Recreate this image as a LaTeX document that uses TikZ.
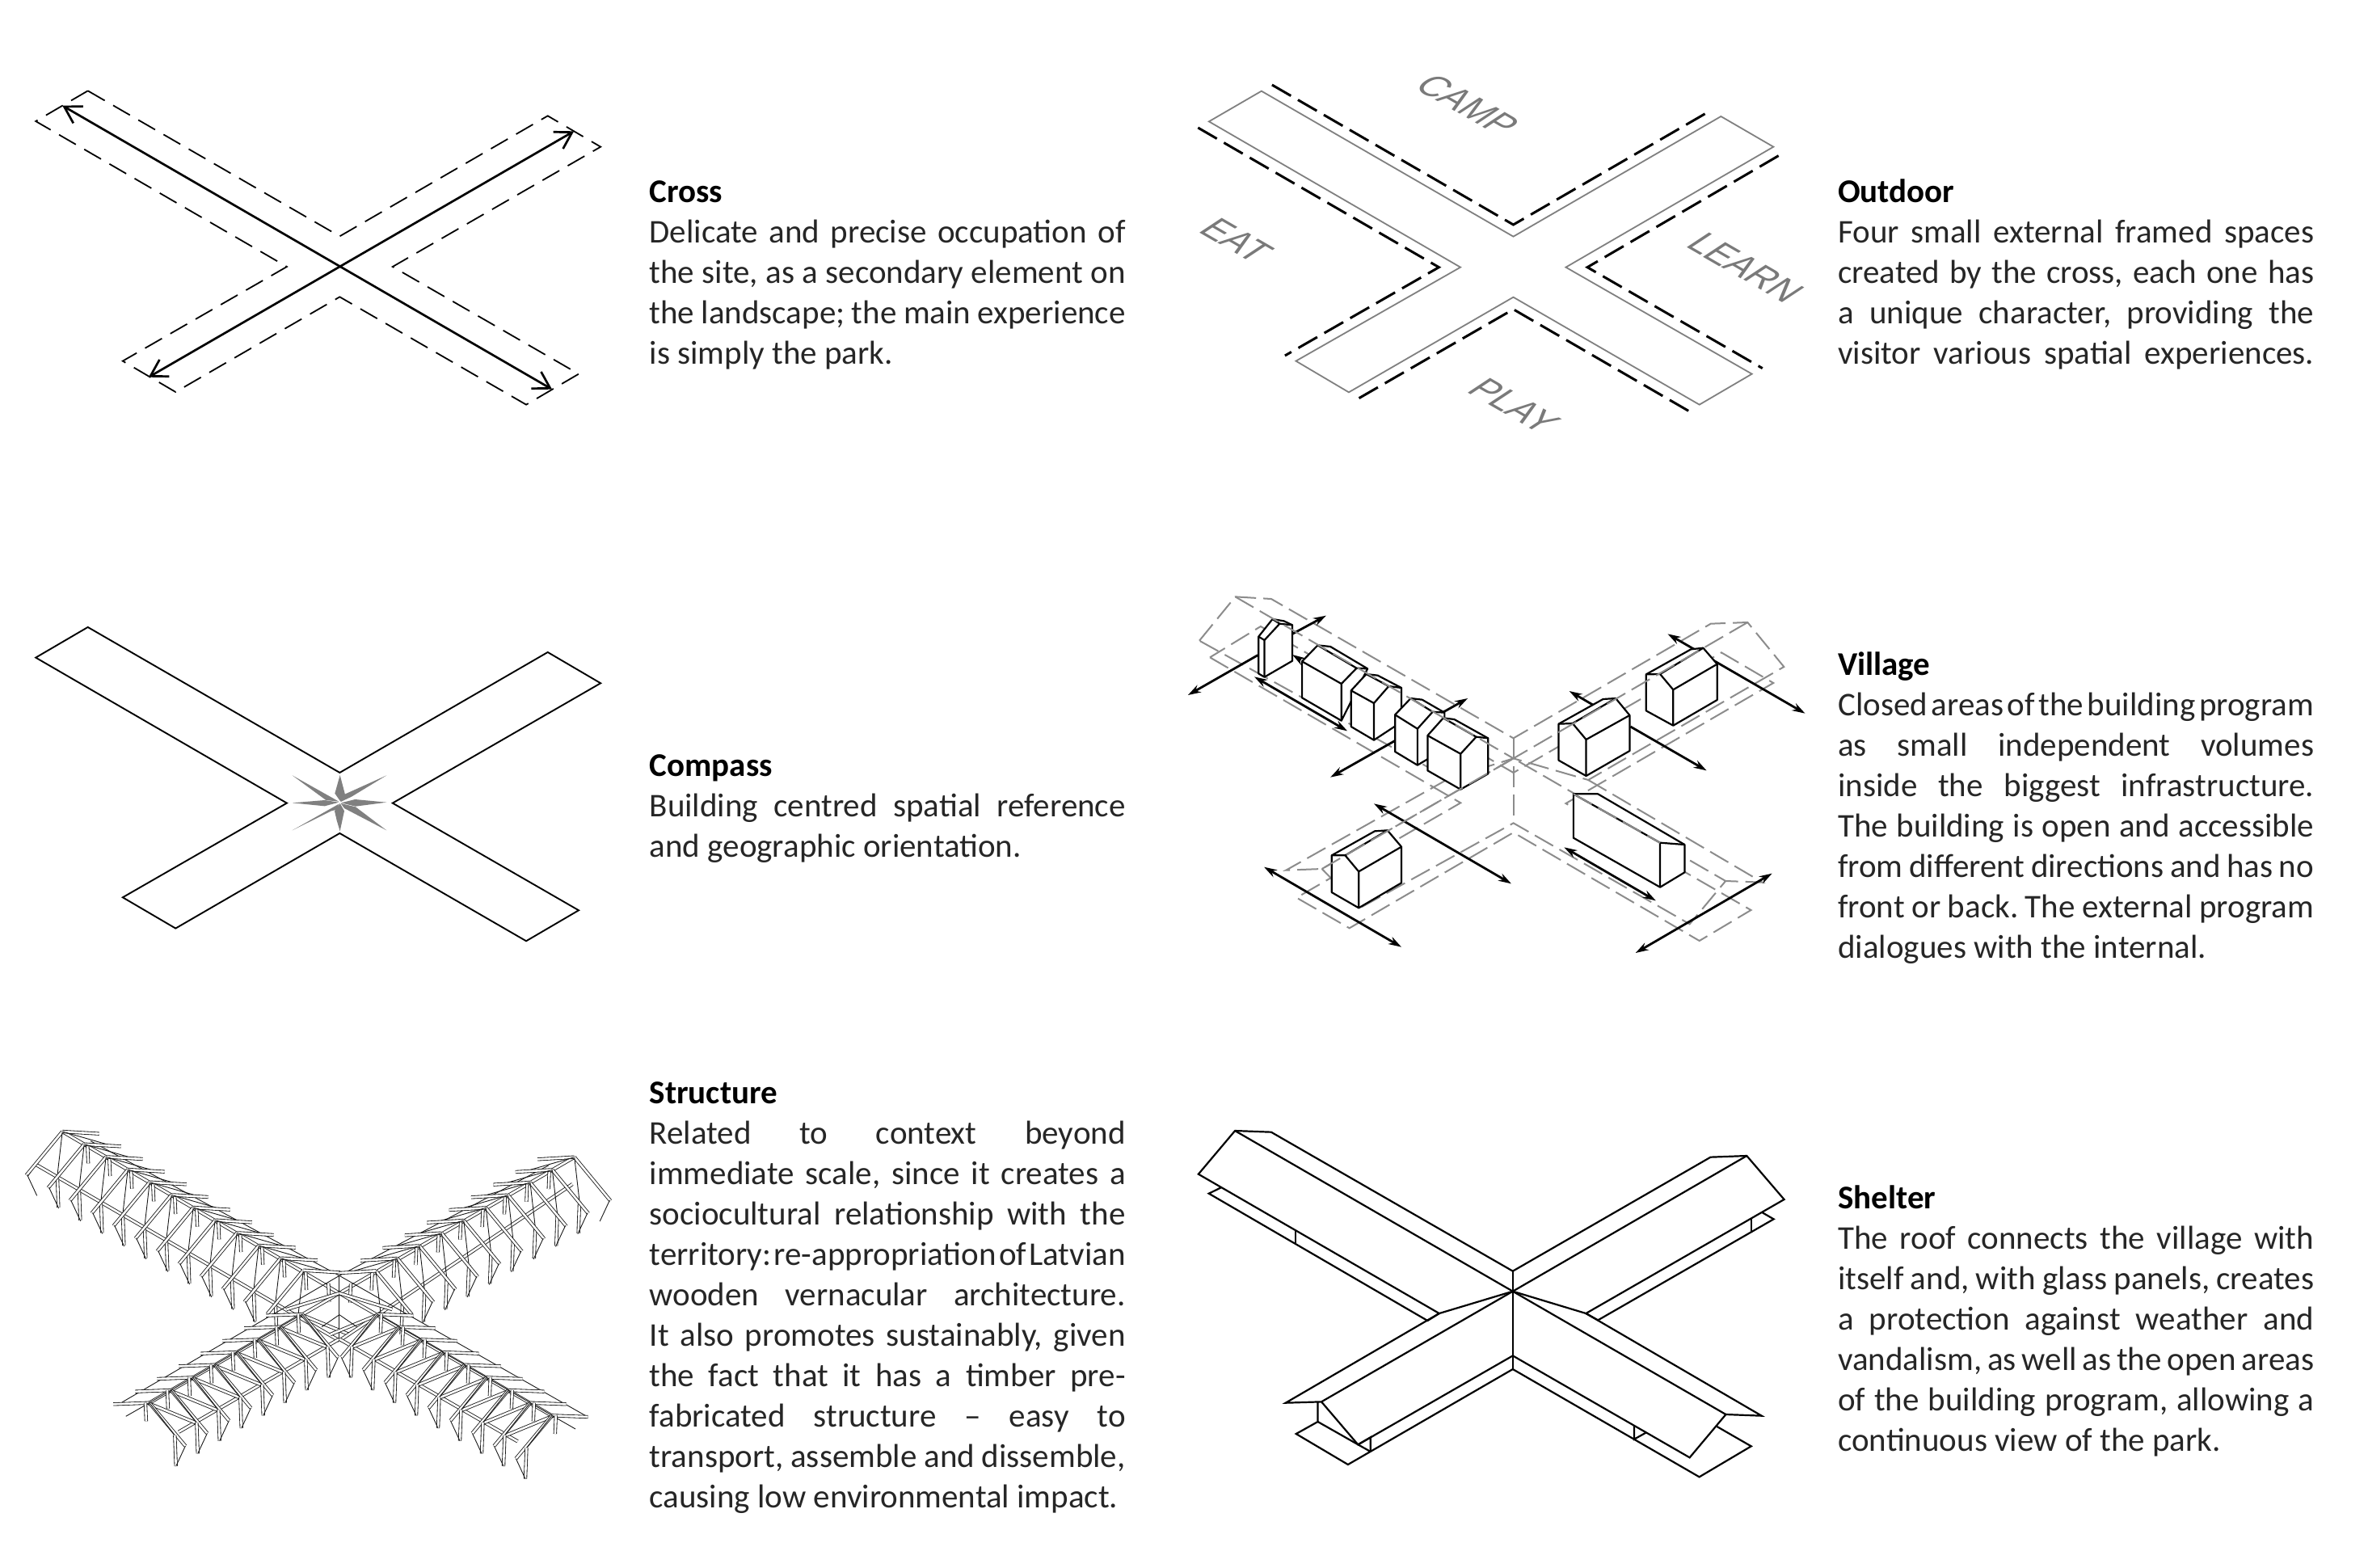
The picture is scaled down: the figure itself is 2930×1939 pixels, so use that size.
\documentclass[tikz,border=0pt]{standalone}
\usepackage{fontspec}
\setmainfont{Carlito}
\newfontfamily\lblfont{Liberation Sans}
\usetikzlibrary{arrows.meta}
\definecolor{txtc}{gray}{0.15}
\definecolor{lgray}{gray}{0.55}
\newcommand\jl[1]{\hbox to 589pt{\frenchspacing\spaceskip=.226em plus 1fil minus 1fil #1}}
\newcommand\nl[1]{\hbox{#1}}
\newcommand\ttl[1]{\hbox{\bfseries\color{black}#1}}
\newcommand\tblock[1]{\vtop{\hsize=589pt\parindent=0pt #1}}
\newcommand\northframe[2]{\begin{scope}[shift={(#1,#2)}]
 \draw[beam] (0,0)--(-92,162);
 \draw[tb] (0,0)--(-13,165);
 \draw[beam] (-13,165)--(-10,282);
 \draw[tb] (-90,160)--(-65,238);
 \draw[beam] (0,0)--(94,8);
 \draw[tb] (0,0)--(120,50);
 \draw[beam] (64,48)--(66,118);
\end{scope}}
\newcommand\northlast[2]{\begin{scope}[shift={(#1,#2)}]
 \draw[beam] (0,0)--(-92,162);
 \draw[tb] (0,0)--(-13,165);
 \draw[beam] (0,0)--(94,8);
 \draw[beam] (64,48)--(66,118);
\end{scope}}
\newcommand\southframe[2]{\begin{scope}[shift={(#1,#2)}]
 \draw[beam] (-5,0)--(120,75);
 \draw[beam] (0,0)--(92,160);
 \draw[tb] (0,0)--(65,120);
 \draw[beam] (65,120)--(68,235);
 \draw[tb] (92,160)--(68,235);
 \draw[beam] (0,0)--(-92,5);
 \draw[tb] (0,0)--(-60,50);
 \draw[beam] (-10,0)--(-8,68);
\end{scope}}
\tikzset{
 zm/.style n args={3}{shift={(#1pt,-#2pt)},x=#3pt,y=-0.33333pt},
 blk/.style={anchor=base west,inner sep=0pt,font=\fontsize{41pt}{50pt}\selectfont,text=txtc},
 dsh/.style={line width=1.8pt,dash pattern=on 24pt off 12pt,line join=miter},
 solidl/.style={line width=1.9pt,line join=miter},
 oarrow/.style={line width=2.7pt,{Straight Barb[length=20pt,width=24pt,line width=2.7pt]}-{Straight Barb[length=20pt,width=24pt,line width=2.7pt]}},
 gdsh/.style={line width=2pt,draw=lgray,dash pattern=on 26pt off 9pt},
 bdsh/.style={line width=3pt,dash pattern=on 27pt off 10pt},
 house/.style={fill=white,draw=black,line width=2.2pt,line join=round},
 hline/.style={draw=black,line width=2.2pt},
 va/.style={line width=2.8pt,-{Stealth[length=16pt,width=10pt]}},
 vb/.style={line width=2.8pt,{Stealth[length=16pt,width=10pt]}-{Stealth[length=16pt,width=10pt]}},
 shl/.style={line width=2.2pt,line join=miter},
 beam/.style={draw=black!90,line width=.85pt,double=white,double distance=2.6pt},
 tb/.style={draw=black!90,line width=.9pt},
 lbl/.style={text=black!52,font=\lblfont\fontsize{43pt}{43pt}\selectfont,rotate=-30,xslant=0.5},
}
\begin{document}
\begin{tikzpicture}[x=1pt,y=-1pt]
\useasboundingbox (0,0) rectangle (2930,1939);
\fill[white] (0,0) rectangle (2930,1939);

%%% CROSS
\begin{scope}[zm={20}{80}{0.4847}]
 \draw[dsh] (183,97)--(50,210)--(691,750)--(272,1100)--(407,1215)--(826,862)--(1302,1262)--(1436,1148)--(961,750)--(1492,305)--(1357,190)--(826,637)--cycle;
 \coordinate (cc) at (826,749);
 \coordinate (cnw) at (118,152);
 \coordinate (cne) at (1424,247);
 \coordinate (csw) at (338,1160);
 \coordinate (cse) at (1368,1205);
 \draw[oarrow] (cnw)--(cse);
 \draw[oarrow] (csw)--(cne);
\end{scope}

%%% COMPASS
\begin{scope}[zm={20}{743.6}{0.4847}]
 \draw[solidl] (183,97)--(50,210)--(691,750)--(272,1100)--(407,1215)--(826,862)--(1302,1262)--(1436,1148)--(961,750)--(1492,305)--(1357,190)--(826,637)--cycle;
\end{scope}
\begin{scope}[shift={(320pt,-920pt)},x=.33333pt,y=-.33333pt]
 \fill[black!50] (302,117)--(320,185)--(322,205)--(304,215)--(283,185)--cycle;
 \fill[black!50] (475,118)--(345,197)--(305,216)--(322,187)--cycle;
 \fill[black!50] (475,218)--(360,233)--(306,220)--(358,207)--cycle;
 \fill[black!50] (475,322)--(360,235)--(305,222)--(318,240)--cycle;
 \fill[black!50] (302,325)--(318,250)--(302,222)--(282,250)--(290,285)--cycle;
 \fill[black!50] (125,322)--(298,224)--(290,245)--(270,250)--cycle;
 \fill[black!50] (125,220)--(245,210)--(298,218)--(245,232)--cycle;
 \fill[black!50] (125,118)--(298,215)--(250,210)--cycle;
\end{scope}

%%% OUTDOOR
\begin{scope}[zm={1460}{60}{0.4847}]
 \draw[line width=1.8pt,draw=black!50] (208,158)--(74,271)--(716,812)--(296,1160)--(431,1276)--(851,923)--(1326,1322)--(1460,1208)--(985,812)--(1515,365)--(1381,252)--(851,698)--cycle;
 \draw[bdsh] (235,135)--(851,654)--(1355,230);
 \draw[bdsh] (46,294)--(661,812)--(268,1140);
 \draw[bdsh] (1528,398)--(1040,812)--(1487,1187);
 \draw[bdsh] (457,1298)--(851,968)--(1298,1345);
\end{scope}
\node[lbl] (lcamp) at (1816,130) {CAMP};
\node[lbl] (leat) at (1530,297) {EAT};
\node[lbl] (llearn) at (2160,331) {LEARN};
\node[lbl] (lplay) at (1874,502) {PLAY};

%%% VILLAGE
\begin{scope}[zm={1450}{720}{0.523}]
 % base cross
 \draw[gdsh] (90,280)--(683,820)--(295,1172)--(420,1285)--(808,930)--(1248,1332)--(1370,1218)--(932,822)--(1423,375)--(1300,262)--(808,708)--(210,165)--cycle;
 % roof
 \draw[gdsh] (65,218)--(150,55)--(235,63)--(808,580)--(1275,155)--(1362,150)--(1448,315)--(985,735)--(808,655)--(655,730)--cycle;
 \draw[gdsh] (808,580)--(808,895);
 \draw[gdsh] (655,730)--(270,1070)--(355,1065)--(808,655);
 \draw[gdsh] (355,1065)--(445,1210)--(808,895)--(1225,1270)--(1310,1110)--(808,655);
 \draw[gdsh] (985,735)--(1397,1115)--(1310,1110);
 % arrows
 \draw[va] (285,193)--(365,125);
 \draw[va] (203,272)--(38,420);
 \draw[vb] (195,352)--(415,553);
 \draw[va] (305,290)--(285,270);
 \draw[va] (640,485)--(700,432);
 \draw[va] (527,590)--(375,725);
 \draw[va] (998,458)--(940,405);
 \draw[vb] (1173,193)--(1498,488);
 \draw[va] (1085,537)--(1265,700);
 \draw[vb] (478,823)--(803,1120);
 \draw[vb] (218,1058)--(543,1355);
 \draw[vb] (928,985)--(1145,1183);
 \draw[vb] (1097,1377)--(1420,1082);
 % B1
 \draw[house] (205,203)--(238,138)--(265,145)--(285,160)--(285,293)--(219,353)--(205,340)--cycle;
 \draw[hline] (205,203)--(219,216)--(219,353) (219,216)--(255,155)--(238,138) (255,155)--(285,160);
 % B2
 \draw[house] (308,295)--(345,235)--(375,240)--(463,322)--(401,515)--(308,430)--cycle;
 \draw[hline] (308,295)--(401,378)--(401,515) (401,378)--(437,320)--(345,235) (437,320)--(463,322);
 % B3
 \draw[house] (424,403)--(460,342)--(487,347)--(543,393)--(543,520)--(478,587)--(424,537)--cycle;
 \draw[hline] (424,403)--(478,450)--(478,587) (478,450)--(513,387)--(460,342) (513,387)--(543,393);
 % B4
 \draw[house] (528,493)--(565,432)--(592,437)--(645,485)--(645,620)--(581,680)--(528,630)--cycle;
 \draw[hline] (528,493)--(581,545)--(581,680) (581,545)--(617,482)--(565,432) (617,482)--(645,485);
 % B5
 \draw[house] (605,570)--(642,505)--(668,510)--(748,580)--(748,712)--(683,770)--(605,700)--cycle;
 \draw[hline] (605,570)--(683,638)--(683,770) (683,638)--(720,575)--(642,505) (720,575)--(748,580);
 % B6
 \draw[house] (915,527)--(1020,435)--(1050,432)--(1083,495)--(1083,627)--(980,720)--(915,662)--cycle;
 \draw[hline] (915,527)--(948,525)--(1050,432) (948,525)--(980,585)--(1083,495) (980,585)--(980,720);
 % B7
 \draw[house] (1122,343)--(1228,250)--(1257,245)--(1290,305)--(1290,438)--(1186,533)--(1122,478)--cycle;
 \draw[hline] (1122,343)--(1155,342)--(1257,245) (1155,342)--(1186,400)--(1290,305) (1186,400)--(1186,533);
 % B8
 \draw[house] (378,1015)--(480,925)--(510,922)--(543,983)--(543,1117)--(442,1210)--(378,1152)--cycle;
 \draw[hline] (378,1015)--(410,1015)--(510,922) (410,1015)--(442,1075)--(543,983) (442,1075)--(442,1210);
 % B9
 \draw[house] (950,787)--(1008,787)--(1213,975)--(1213,1078)--(1155,1133)--(950,950)--cycle;
 \draw[hline] (950,787)--(1155,968)--(1213,975) (1155,968)--(1155,1133);
 % ridges over the houses
 \draw[gdsh] (150,55)--(808,655);
 \draw[gdsh] (1362,150)--(808,655);
 \draw[gdsh] (355,1065)--(808,655);
 \draw[gdsh] (950,787)--(1155,968);
\end{scope}

%%% SHELTER
\begin{scope}[zm={1450}{1370}{0.4974}]
 \draw[shl] (66,248)--(157,87)--(247,92)--(848,608)--(1340,185)--(1430,180)--(1523,342)--(1030,765)--(848,683)--(665,765)--cycle;
 \draw[shl] (157,87)--(848,683)--(1430,180);
 \draw[shl] (848,608)--(848,972);
 \draw[shl] (665,765)--(283,1097)--(372,1093)--(848,683);
 \draw[shl] (372,1093)--(463,1252)--(848,922)--(1288,1300)--(1378,1140)--(848,683);
 \draw[shl] (1378,1140)--(1467,1145)--(1030,765);
 \draw[shl] (122,298)--(92,320)--(636,792)--(665,765);
 \draw[shl] (308,460)--(308,510);
 \draw[shl] (1468,390)--(1497,415)--(1060,790)--(1030,765);
 \draw[shl] (1441,412)--(1441,462);
 \draw[shl] (363,1093)--(363,1167)--(309,1212)--(438,1326)--(848,972);
 \draw[shl] (363,1167)--(494,1278);
 \draw[shl] (848,972)--(1312,1372)--(1441,1258)--(1356,1185);
 \draw[shl] (463,1252)--(494,1225)--(494,1278);
 \draw[shl] (1150,1182)--(1150,1232)--(1180,1207);
\end{scope}

%%% STRUCTURE
\begin{scope}[zm={20}{1370}{0.4847}]
 \draw[beam] (50,212)--(825,866);
 \draw[beam] (118,90)--(825,690);
 \draw[tb] (190,125)--(825,625);
 \draw[tb] (50,212)--(30,255);
 \foreach \k in {0,...,10}{\northframe{118+55.7*\k}{90+47*\k}}
 \northlast{733}{605}
 \draw[beam] (825,860)--(415,1205);
 \draw[beam] (340,1097)--(825,690);
 \draw[tb] (270,1095)--(825,625);
 \foreach \k in {0,...,7}{\southframe{340+55.7*\k}{1097-47*\k}}
 \draw[tb] (825,625)--(825,860);
 \draw[beam] (690,750)--(825,690);
 \draw[tb] (780,815)--(825,770);
\end{scope}
\begin{scope}[shift={(819.8pt,-1370pt)},x=-.4847pt,y=-.33333pt]
 \draw[beam] (230,285)--(825,866);
 \draw[beam] (225,185)--(825,690);
 \draw[tb] (290,215)--(825,625);
 \foreach \k in {0,...,8}{\northframe{225+56.5*\k}{185+47*\k}}
 \northlast{732}{607}
 \draw[beam] (825,860)--(370,1240);
 \draw[beam] (282,1145)--(825,690);
 \draw[tb] (190,1150)--(825,625);
 \foreach \k in {-1,...,7}{\southframe{338+55.7*\k}{1097-47*\k}}
 \draw[beam] (690,750)--(825,690);
 \draw[tb] (780,815)--(825,770);
\end{scope}

%%% TEXTS
\node[blk] (tcross) at (803.5,250) {\tblock{\ttl{Cross}\jl{Delicate and precise occupation of}\jl{the site, as a secondary element on}\jl{the landscape; the main experience}\nl{is simply the park.}}};
\node[blk] (toutdoor) at (2274,250) {\tblock{\ttl{Outdoor}\jl{Four small external framed spaces}\jl{created by the cross, each one has}\jl{a unique character, providing the}\jl{visitor various spatial experiences.}}};
\node[blk] (tcompass) at (803.5,960) {\tblock{\ttl{Compass}\jl{Building centred spatial reference}\nl{and geographic orientation.}}};
\node[blk] (tvillage) at (2274,835) {\tblock{\ttl{Village}\jl{Closed areas of the building program}\jl{as small independent volumes}\jl{inside the biggest infrastructure.}\jl{The building is open and accessible}\jl{from different directions and has no}\jl{front or back. The external program}\nl{dialogues with the internal.}}};
\node[blk] (tstruct) at (803.5,1365) {\tblock{\ttl{Structure}\jl{Related to context beyond}\jl{immediate scale, since it creates a}\jl{sociocultural relationship with the}\jl{territory: re-appropriation of Latvian}\jl{wooden vernacular architecture.}\jl{It also promotes sustainably, given}\jl{the fact that it has a timber pre-}\jl{fabricated structure – easy to}\jl{transport, assemble and dissemble,}\nl{causing low environmental impact.}}};
\node[blk] (tshelter) at (2274,1495) {\tblock{\ttl{Shelter}\jl{The roof connects the village with}\jl{itself and, with glass panels, creates}\jl{a protection against weather and}\jl{vandalism, as well as the open areas}\jl{of the building program, allowing a}\nl{continuous view of the park.}}};
\end{tikzpicture}
\end{document}
